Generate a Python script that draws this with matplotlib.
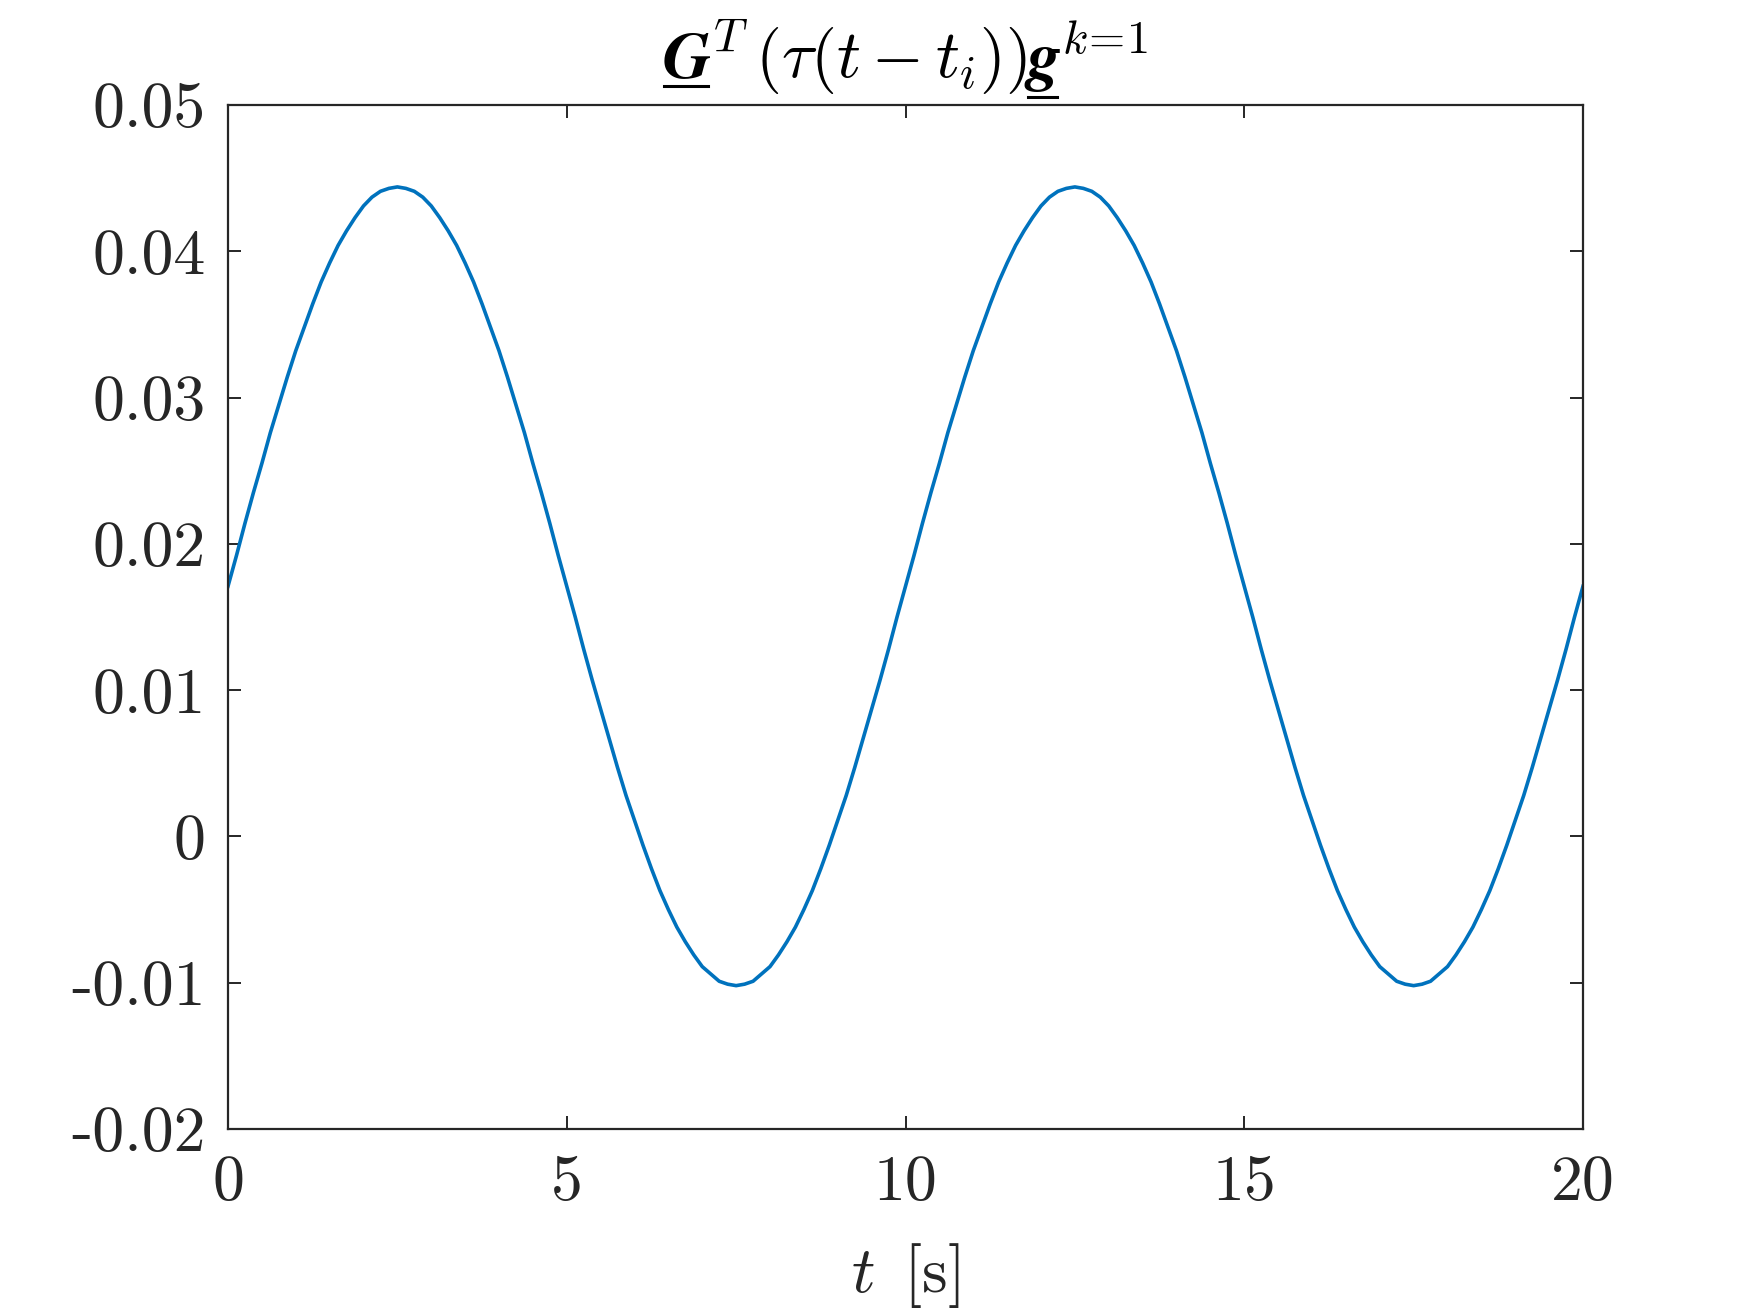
import numpy as np
import matplotlib
matplotlib.use("Agg")
import matplotlib.pyplot as plt
from matplotlib.lines import Line2D

plt.rcParams['font.family'] = 'serif'
plt.rcParams['font.serif'] = ['cmr10']
plt.rcParams['mathtext.fontset'] = 'cm'
plt.rcParams['axes.unicode_minus'] = False

t_s = np.linspace(0, 20, 161)
y_val = [
    # 0 .. 10 s
    0.0171, 0.0192, 0.0214, 0.0235, 0.0255, 0.0276, 0.0295, 0.0314, 0.0332, 0.0348,
    0.0364, 0.0379, 0.0392, 0.0404, 0.0414, 0.0423, 0.0431, 0.0437, 0.0441, 0.0443,
    0.0444, 0.0443, 0.0441, 0.0437, 0.0431, 0.0423, 0.0414, 0.0404, 0.0392, 0.0379,
    0.0364, 0.0348, 0.0332, 0.0314, 0.0295, 0.0276, 0.0255, 0.0235, 0.0214, 0.0192,
    0.0171, 0.0150, 0.0128, 0.0107, 0.0087, 0.0067, 0.0047, 0.0028, 0.0011, -0.0006,
    -0.0022, -0.0037, -0.0050, -0.0062, -0.0072, -0.0081, -0.0089, -0.0094, -0.0099, -0.0101,
    -0.0102, -0.0101, -0.0099, -0.0094, -0.0089, -0.0081, -0.0072, -0.0062, -0.0050, -0.0037,
    -0.0022, -0.0006, 0.0011, 0.0028, 0.0047, 0.0067, 0.0087, 0.0107, 0.0128, 0.0150,
    # 10 .. 20 s
    0.0171, 0.0192, 0.0214, 0.0235, 0.0255, 0.0276, 0.0295, 0.0314, 0.0332, 0.0348,
    0.0364, 0.0379, 0.0392, 0.0404, 0.0414, 0.0423, 0.0431, 0.0437, 0.0441, 0.0443,
    0.0444, 0.0443, 0.0441, 0.0437, 0.0431, 0.0423, 0.0414, 0.0404, 0.0392, 0.0379,
    0.0364, 0.0348, 0.0332, 0.0314, 0.0295, 0.0276, 0.0255, 0.0235, 0.0214, 0.0192,
    0.0171, 0.0150, 0.0128, 0.0107, 0.0087, 0.0067, 0.0047, 0.0028, 0.0011, -0.0006,
    -0.0022, -0.0037, -0.0050, -0.0062, -0.0072, -0.0081, -0.0089, -0.0094, -0.0099, -0.0101,
    -0.0102, -0.0101, -0.0099, -0.0094, -0.0089, -0.0081, -0.0072, -0.0062, -0.0050, -0.0037,
    -0.0022, -0.0006, 0.0011, 0.0028, 0.0047, 0.0067, 0.0087, 0.0107, 0.0128, 0.0150,
    0.0171,
]
x_ticks = [0, 5, 10, 15, 20]
x_ticklabels = ['0', '5', '10', '15', '20']
y_ticks = [-0.02, -0.01, 0, 0.01, 0.02, 0.03, 0.04, 0.05]
y_ticklabels = ['-0.02', '-0.01', '0', '0.01', '0.02', '0.03', '0.04', '0.05']

W, H = 1750, 1313
fig = plt.figure(figsize=(W / 100, H / 100), dpi=100)
L, R, T, B = 228, 1583, 105, 1129
ax = fig.add_axes([L / W, 1 - B / H, (R - L) / W, (B - T) / H])

line_col = '#0072BD'
axc = '#262626'
ax.plot(t_s, y_val, color=line_col, lw=2.6)
ax.set_xlim(0, 20)
ax.set_ylim(-0.02, 0.05)
ax.set_xticks(x_ticks)
ax.set_xticklabels(x_ticklabels)
ax.set_yticks(y_ticks)
ax.set_yticklabels(y_ticklabels)
for sp in ax.spines.values():
    sp.set_color(axc)
    sp.set_linewidth(1.6)
ax.tick_params(direction='in', top=True, right=True, length=9.5, width=1.4,
               colors=axc, labelsize=46, labelcolor=axc)
ax.tick_params(axis='x', pad=19)
ax.tick_params(axis='y', pad=16)

ax.set_xlabel(r'$t\ \,[\mathrm{s}]$', fontsize=47, color=axc, labelpad=20)

# ---- title built from pieces (underlined bold-italic vectors) ----
fig.canvas.draw()
renderer = fig.canvas.get_renderer()
ybase = 1 - 78 / H
tsize = 48
bfit = dict(family='STIXGeneral', weight='bold', style='italic')
pieces = [
    ('G', bfit, 86),
    (r'${}^{T}\,(\tau(t-t_i))$', {}, None),
    ('g', bfit, 97),
    (r'${}^{k\!=\!1}$', {}, None),
]
objs = []
total = 0
for s, fp, ul in pieces:
    tx = fig.text(0, ybase, s, fontsize=tsize, va='baseline', ha='left', color='k', **fp)
    w = tx.get_window_extent(renderer).width
    objs.append((tx, w, ul))
    total += w
xc = (L + R) / 2
xpix = xc - total / 2
for tx, w, ul in objs:
    tx.set_x(xpix / W)
    if ul is not None:
        yl = 1 - ul / H
        fig.add_artist(Line2D([(xpix + 1) / W, (xpix + w - 3) / W], [yl, yl],
                              transform=fig.transFigure, color='k', lw=2.2))
    xpix += w

fig.savefig('out.png', dpi=100, facecolor='white')
